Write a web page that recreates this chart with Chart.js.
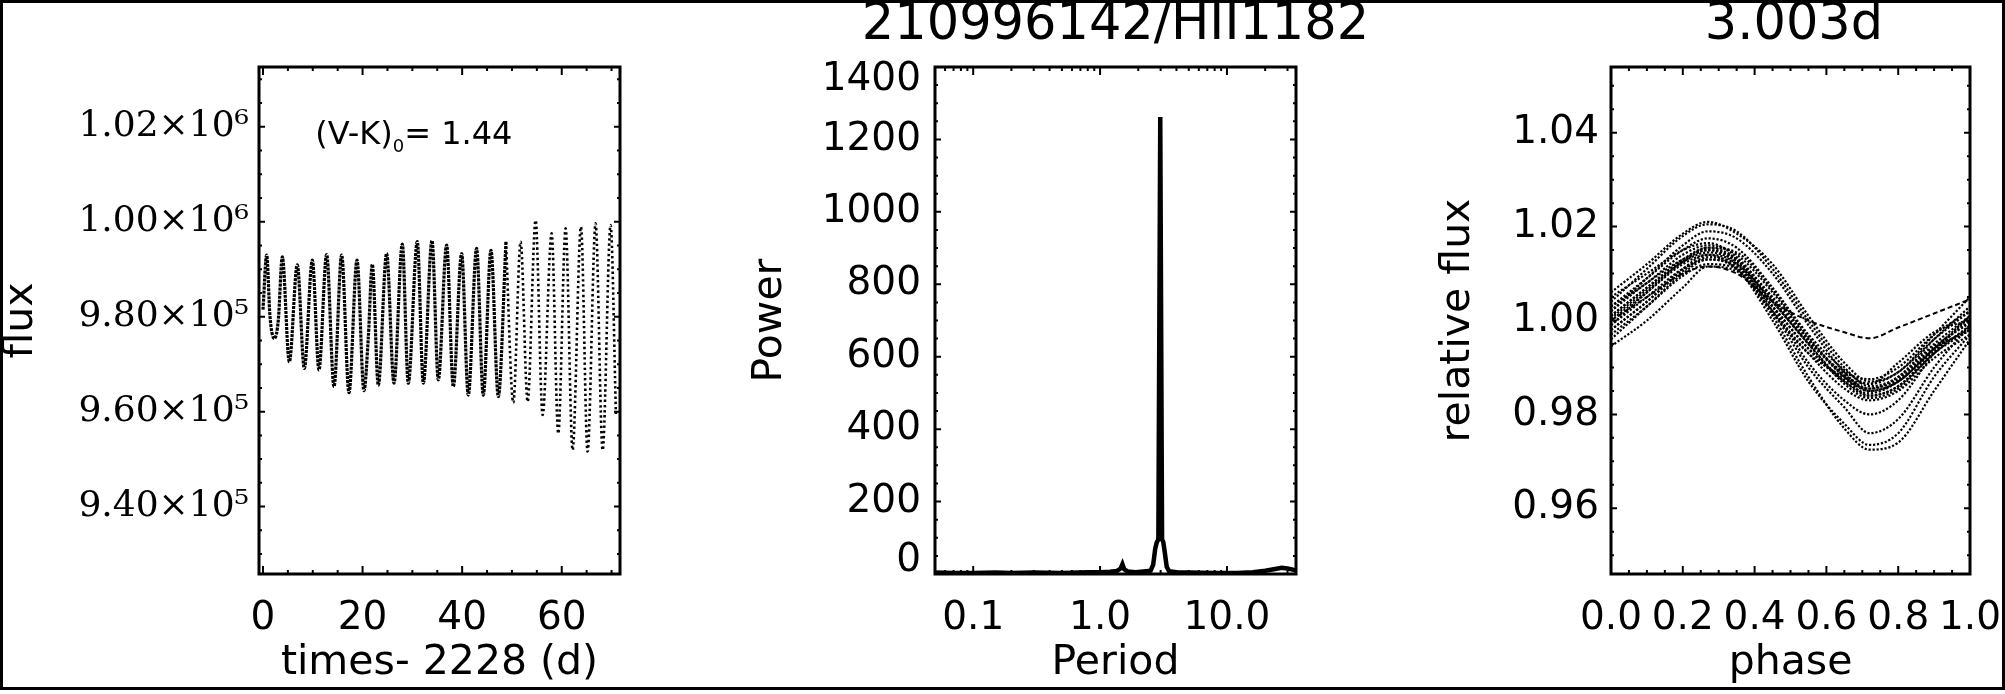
<!DOCTYPE html>
<html>
<head>
<meta charset="utf-8">
<title>210996142/HII1182</title>
<script src="https://cdn.jsdelivr.net/npm/chart.js@4.4.1/dist/chart.umd.min.js"></script>
<style>
  html, body { margin: 0; padding: 0; background: #fff; }
  body { position: relative; width: 2005px; height: 694px; overflow: hidden; }
  canvas { position: absolute; top: 0; }
  #frame { position: absolute; left: 0; top: 0; width: 2005px; height: 690px;
           border: 3px solid #000; box-sizing: border-box; pointer-events: none; }
</style>
</head>
<body>
<canvas id="lc"></canvas>
<canvas id="pg"></canvas>
<canvas id="ph"></canvas>
<div id="frame"></div>
<script>
// left panel: light curve, turning points (days, flux)
var lcTime = [0.0, 0.74, 1.41, 2.28, 3.08, 3.88, 5.29, 6.89, 8.30, 9.91, 11.24, 12.78, 14.26, 15.80,
  17.27, 18.88, 20.28, 21.15, 21.95, 23.16, 24.83, 26.31, 27.98, 29.18, 30.99, 32.20, 33.94, 35.21,
  36.88, 38.22, 39.89, 41.23, 42.90, 44.24, 45.78, 47.26, 48.80, 50.27, 51.74, 53.15, 54.75, 56.16,
  57.97, 59.30, 60.78, 62.18, 63.86, 65.19, 66.80, 68.21, 69.81, 70.88];
var lcFlux = [981500, 993000, 980000, 975400, 979300, 992600, 970500, 990900, 969100, 991900, 968800,
  993100, 965300, 993000, 964000, 991900, 964400, 975600, 991000, 965600, 993300, 966000, 995300,
  966000, 995800, 966000, 996000, 966700, 995100, 965300, 993300, 963500, 994400, 963500, 994000,
  963200, 995800, 961900, 995800, 962100, 1000300, 959300, 997550, 955400, 998600, 951900, 998950,
  951600, 999650, 951900, 999300, 959500];
var lcSplit = 36; // after this point the samples look sparser

// middle panel: periodogram
var pgPeriod = [0.05, 0.07, 0.1, 0.15, 0.2, 0.3, 0.5, 0.8, 1.0, 1.2, 1.35, 1.45, 1.5, 1.55, 1.65, 1.9,
  2.2, 2.5, 2.62, 2.72, 2.8, 2.88, 2.98, 3.08, 3.15, 3.25, 3.35, 3.5, 4.0, 5.0, 8, 12, 16, 20, 24, 27,
  30, 33, 35];
var pgPower = [4, 3, 3, 4, 3, 4, 3, 5, 5, 6, 8, 15, 27, 13, 7, 5, 7, 9, 25, 70, 88, 95, 1262, 95, 88,
  55, 20, 8, 5, 4, 3, 3, 5, 9, 14, 17, 15, 12, 9];

// right panel: folded light curve, one row per cycle
var phPhase = [0, 0.1, 0.2, 0.27, 0.35, 0.45, 0.55, 0.65, 0.72, 0.8, 0.9, 1.0];
var phCycles = [
  [1.004, 1.011, 1.018, 1.0205, 1.019, 1.011, 1.000, 0.990, 0.986, 0.988, 0.996, 1.003],
  [1.006, 1.012, 1.0185, 1.021, 1.0185, 1.012, 1.001, 0.991, 0.987, 0.989, 0.997, 1.005],
  [1.002, 1.009, 1.016, 1.019, 1.0175, 1.010, 0.999, 0.989, 0.985, 0.987, 0.994, 1.001],
  [1.003, 1.008, 1.014, 1.016, 1.014, 1.006, 0.996, 0.988, 0.985, 0.987, 0.994, 1.000],
  [1.001, 1.007, 1.0125, 1.0145, 1.0125, 1.004, 0.995, 0.987, 0.984, 0.986, 0.993, 0.999],
  [0.999, 1.005, 1.011, 1.013, 1.0115, 1.003, 0.994, 0.987, 0.9845, 0.987, 0.994, 0.998],
  [1.000, 1.006, 1.012, 1.014, 1.011, 1.002, 0.993, 0.9855, 0.983, 0.985, 0.992, 0.997],
  [1.005, 1.010, 1.015, 1.0165, 1.0135, 1.0045, 0.9955, 0.989, 0.9875, 0.990, 0.997, 1.002],
  [0.997, 1.003, 1.0095, 1.012, 1.011, 1.003, 0.994, 0.9875, 0.9855, 0.9875, 0.9945, 0.9995],
  [0.9945, 1.000, 1.007, 1.0115, 1.0105, 1.0015, 0.993, 0.988, 0.9865, 0.991, 0.9975, 1.000],
  [1.002, 1.008, 1.013, 1.015, 1.013, 1.005, 0.996, 0.9885, 0.9855, 0.988, 0.995, 1.001],
  [1.0005, 1.0065, 1.0125, 1.0155, 1.0145, 1.0065, 0.9965, 0.988, 0.984, 0.986, 0.9935, 0.9985],
  [1.003, 1.009, 1.015, 1.0175, 1.0155, 1.007, 0.997, 0.9895, 0.9865, 0.989, 0.996, 1.002],
  [0.998, 1.004, 1.0105, 1.0135, 1.012, 1.004, 0.995, 0.9865, 0.9835, 0.9855, 0.993, 0.998],
  [0.998, 1.004, 1.011, 1.014, 1.012, 1.001, 0.988, 0.977, 0.9725, 0.974, 0.985, 0.996],
  [0.996, 1.003, 1.010, 1.013, 1.011, 1.000, 0.987, 0.978, 0.9735, 0.976, 0.988, 0.997],
  [0.999, 1.006, 1.0125, 1.015, 1.0125, 1.002, 0.990, 0.9815, 0.976, 0.979, 0.990, 0.999],
  [1.001, 1.007, 1.013, 1.0155, 1.013, 1.003, 0.991, 0.983, 0.980, 0.983, 0.993, 1.001]
];
var phShallow = [1.000, 1.005, 1.010, 1.0115, 1.010, 1.004, 1.000, 0.9975, 0.9962, 0.9985, 1.0015, 1.0045];

// ticks
var lcXTicks = [0, 20, 40, 60];
var lcYTicks = [940000, 960000, 980000, 1000000, 1020000];
var pgXTicks = [0.1, 1, 10];
var pgXMinor = [0.06, 0.07, 0.08, 0.09, 0.2, 0.3, 0.4, 0.5, 0.6, 0.7, 0.8, 0.9, 2, 3, 4, 5, 6, 7, 8, 9, 20, 30];
var pgYTicks = [0, 200, 400, 600, 800, 1000, 1200, 1400];
var phXTicks = [0, 0.2, 0.4, 0.6, 0.8, 1.0];
var phYTicks = [0.96, 0.98, 1.00, 1.02, 1.04];

var noteAt = [10.5, 1016300];

var H = 694, TOP = 67, BOT = 574;
var SANS = 'DejaVu Sans', SERIF = 'DejaVu Serif';
var TICK = 39, LABEL = 41, HEAD = 51;

function xy(xs, ys) {
  return xs.map(function (x, i) { return { x: x, y: ys[i] }; });
}
function steps(a, b, d) {
  var out = [];
  for (var v = a; v <= b + d * 1e-6; v += d) out.push(+v.toFixed(6));
  return out;
}

// IDL style box with inward ticks on all four sides
var idlFrame = {
  id: 'idlFrame',
  afterDraw: function (chart, args, o) {
    var ctx = chart.ctx, a = chart.chartArea, sx = chart.scales.x, sy = chart.scales.y;
    ctx.save();
    ctx.strokeStyle = '#000';
    ctx.lineWidth = 2;
    ctx.beginPath();
    function xt(list, len) {
      list.forEach(function (v) {
        var p = sx.getPixelForValue(v);
        if (p < a.left + 1 || p > a.right - 1) return;
        ctx.moveTo(p, a.bottom); ctx.lineTo(p, a.bottom - len);
        ctx.moveTo(p, a.top); ctx.lineTo(p, a.top + len);
      });
    }
    function yt(list, len) {
      list.forEach(function (v) {
        var p = sy.getPixelForValue(v);
        if (p < a.top + 1 || p > a.bottom - 1) return;
        ctx.moveTo(a.left, p); ctx.lineTo(a.left + len, p);
        ctx.moveTo(a.right, p); ctx.lineTo(a.right - len, p);
      });
    }
    xt(o.xMajor, 8); xt(o.xMinor, 4);
    yt(o.yMajor, 6); yt(o.yMinor, 3);
    ctx.stroke();
    ctx.lineWidth = 3;
    ctx.strokeRect(a.left, a.top, a.right - a.left, a.bottom - a.top);
    ctx.restore();
  }
};

// the end labels of the power axis sit inside the box height, as in the original
var endLabels = {
  id: 'endLabels',
  beforeDraw: function (chart, args, o) {
    var items = chart.scales.y.getLabelItems(chart.chartArea);
    if (!items.length || items._moved) return;
    items[0].options.translation[1] -= o.shift;
    items[items.length - 1].options.translation[1] += o.shift;
    items._moved = true;
  }
};

var colourNote = {
  id: 'colourNote',
  afterDraw: function (chart) {
    var ctx = chart.ctx;
    var x = chart.scales.x.getPixelForValue(noteAt[0]);
    var y = chart.scales.y.getPixelForValue(noteAt[1]);
    ctx.save();
    ctx.fillStyle = '#000';
    ctx.textBaseline = 'alphabetic';
    ctx.font = '32px "DejaVu Sans"';
    ctx.fillText('(V-K)', x, y);
    x += ctx.measureText('(V-K)').width;
    ctx.font = '18px "DejaVu Sans"';
    ctx.fillText('0', x, y + 8);
    x += ctx.measureText('0').width;
    ctx.font = '32px "DejaVu Sans"';
    ctx.fillText('= 1.44', x, y);
    ctx.restore();
  }
};

function panel(id, p) {
  var cv = document.getElementById(id);
  var w = p.c1 - p.c0;
  cv.width = w; cv.height = H;
  cv.style.left = p.c0 + 'px';
  cv.style.width = w + 'px';
  cv.style.height = H + 'px';
  var yW = p.left - p.c0, rW = p.c1 - p.right;
  var lh = LABEL * 1.2;
  var noGrid = { display: false, drawTicks: false, tickLength: 0 };

  var scales = {
    x: Object.assign({
      position: 'bottom',
      grid: noGrid, border: { display: false },
      ticks: { autoSkip: false, maxRotation: 0, minRotation: 0, color: '#000',
        font: { family: SANS, size: TICK }, padding: 618.7 - BOT - TICK * 0.6, callback: p.xFmt },
      title: { display: true, text: p.xTitle, color: '#000', font: { family: SANS, size: LABEL },
        padding: { top: 0, bottom: H - (678 - 0.346 * LABEL) - lh / 2 } },
      afterBuildTicks: function (s) { s.ticks = p.xTicks.map(function (v) { return { value: v }; }); },
      afterFit: function (s) { s.height = H - BOT; }
    }, p.x),
    y: Object.assign({
      position: 'left',
      grid: noGrid, border: { display: false },
      ticks: { autoSkip: false, color: '#000', font: { family: p.yFont || SANS, size: p.ySize || TICK },
        padding: p.yPad, callback: p.yFmt },
      title: { display: true, text: p.yTitle, color: '#000', font: { family: SANS, size: LABEL },
        padding: { top: (p.yTitleBase - 0.346 * LABEL) - p.c0 - lh / 2, bottom: 0 } },
      afterBuildTicks: function (s) { s.ticks = p.yTicks.map(function (v) { return { value: v }; }); },
      afterFit: function (s) { s.width = yW; }
    }, p.y),
    pad: {
      type: 'linear', position: 'right', display: true,
      grid: noGrid, border: { display: false }, ticks: { display: false },
      afterFit: function (s) { s.width = rW; }
    }
  };

  return new Chart(cv, {
    type: 'line',
    data: { datasets: p.datasets },
    options: {
      responsive: false,
      animation: false,
      devicePixelRatio: 1,
      layout: { padding: { top: p.head ? 0 : TOP, left: 0, right: 0, bottom: 0 } },
      scales: scales,
      elements: { point: { radius: 0 } },
      plugins: {
        legend: { display: false },
        tooltip: { enabled: false },
        title: p.head ? {
          display: true, text: p.head, color: '#000',
          font: { family: SANS, size: HEAD, weight: 'normal', lineHeight: 1 },
          padding: { top: 0, bottom: TOP - HEAD }
        } : { display: false },
        idlFrame: { xMajor: p.xTicks, xMinor: p.xMinor, yMajor: p.yTicks, yMinor: p.yMinor },
        endLabels: { shift: 13 }
      }
    },
    plugins: [idlFrame].concat(p.extra || [])
  });
}

function line(data, width, dash, smooth) {
  return {
    data: data, borderColor: '#000', backgroundColor: '#000', borderWidth: width,
    borderDash: dash || [], fill: false, pointRadius: 0,
    tension: smooth ? 0.4 : 0, cubicInterpolationMode: smooth ? 'monotone' : 'default'
  };
}

// left
panel('lc', {
  c0: -40, c1: 668, left: 259, right: 620,
  x: { type: 'linear', min: -0.8, max: 71.7 },
  y: { type: 'linear', min: 925800, max: 1032600 },
  xTicks: lcXTicks, xMinor: steps(0, 70, 5),
  yTicks: lcYTicks, yMinor: steps(930000, 1030000, 5000),
  xFmt: function (v) { return String(v); },
  yFmt: function (v) {
    return v >= 1e6 ? (v / 1e6).toFixed(2) + '×10⁶' : (v / 1e5).toFixed(2) + '×10⁵';
  },
  yFont: SERIF, ySize: 36, yPad: 10,
  xTitle: 'times- 2228 (d)', yTitle: 'flux', yTitleBase: 36,
  datasets: [
    line(xy(lcTime.slice(0, lcSplit + 1), lcFlux.slice(0, lcSplit + 1)), 3.2, [3, 1], true),
    line(xy(lcTime.slice(lcSplit), lcFlux.slice(lcSplit)), 2.6, [2.4, 2.8], true)
  ],
  extra: [colourNote]
});

// middle
panel('pg', {
  c0: 670, c1: 1561, left: 935, right: 1296,
  x: { type: 'logarithmic', min: 0.05, max: 35 },
  y: { type: 'linear', min: 0, max: 1400 },
  xTicks: pgXTicks, xMinor: pgXMinor,
  yTicks: pgYTicks, yMinor: steps(0, 1400, 50),
  xFmt: function (v) { return Number(v).toFixed(1); },
  yFmt: function (v) { return String(v); },
  yPad: 14,
  xTitle: 'Period', yTitle: 'Power', yTitleBase: 785,
  head: '210996142/HII1182',
  datasets: [line(xy(pgPeriod, pgPower), 4.5, null, false)],
  extra: [endLabels]
});

// right
var phSets = phCycles.map(function (c) { return line(xy(phPhase, c), 2.2, [2.2, 1.8], true); });
phSets.push(line(xy(phPhase, phShallow), 2, [5, 3], true));
panel('ph', {
  c0: 1410, c1: 2178, left: 1611, right: 1970,
  x: { type: 'linear', min: 0, max: 1 },
  y: { type: 'linear', min: 0.946, max: 1.054 },
  xTicks: phXTicks, xMinor: steps(0, 1, 0.05),
  yTicks: phYTicks, yMinor: steps(0.95, 1.05, 0.005),
  xFmt: function (v) { return Number(v).toFixed(1); },
  yFmt: function (v) { return Number(v).toFixed(2); },
  yPad: 12,
  xTitle: 'phase', yTitle: 'relative flux', yTitleBase: 1473,
  head: '3.003d',
  datasets: phSets
});
</script>
</body>
</html>
